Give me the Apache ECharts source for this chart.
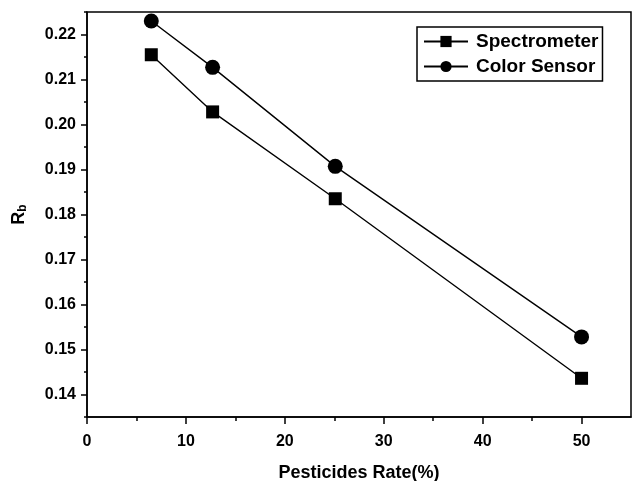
<!DOCTYPE html>
<html>
<head>
<meta charset="utf-8">
<script src="https://cdn.jsdelivr.net/npm/echarts@6/dist/echarts.min.js"></script>
<style>
  html, body { margin: 0; padding: 0; background: #fff; }
  #chart { width: 638px; height: 481px; }
</style>
</head>
<body>
<div id="chart"></div>
<script>
// data
var rates = [6.5, 12.7, 25.1, 50];
var spectrometer = [0.2155, 0.2028, 0.1835, 0.1436];
var colorSensor = [0.2230, 0.2127, 0.1907, 0.1528];
var xTickValues = [0, 10, 20, 30, 40, 50];
var yTickValues = [0.14, 0.15, 0.16, 0.17, 0.18, 0.19, 0.20, 0.21, 0.22];
var yMinorValues = [0.135, 0.145, 0.155, 0.165, 0.175, 0.185, 0.195, 0.205, 0.215, 0.225];

var font = 'Liberation Sans, Arial, sans-serif';

function pairs(xs, ys) {
    return xs.map(function (x, i) { return [x, ys[i]]; });
}

var myChart = echarts.init(document.getElementById('chart'));
var option = {
    animation: false,
    grid: {
        left: 87,
        right: 7,
        top: 12,
        bottom: 64,
        outerBoundsMode: 'none',
        show: true,
        borderColor: '#000',
        borderWidth: 1.5
    },
    legend: {
        orient: 'vertical',
        left: 417,
        top: 27,
        borderColor: '#000',
        borderWidth: 1.5,
        padding: [5, 4, 5, 6],
        itemGap: 6,
        itemWidth: 44,
        itemHeight: 14,
        textStyle: {
            fontFamily: font,
            fontWeight: 'bold',
            fontSize: 19,
            color: '#000',
            padding: [0, 0, 0, 3]
        },
        data: ['Spectrometer', 'Color Sensor']
    },
    xAxis: {
        type: 'value',
        min: 0,
        max: 55,
        interval: 10,
        name: 'Pesticides Rate(%)',
        nameLocation: 'middle',
        nameGap: 47,
        nameTextStyle: {
            fontFamily: font,
            fontWeight: 'bold',
            fontSize: 18,
            color: '#000'
        },
        axisLine: { show: true, lineStyle: { color: '#000', width: 1.5 } },
        axisTick: {
            show: true,
            length: 7,
            customValues: xTickValues,
            lineStyle: { color: '#000', width: 1.5 }
        },
        minorTick: {
            show: true,
            splitNumber: 2,
            length: 4,
            lineStyle: { color: '#000', width: 1.5 }
        },
        axisLabel: {
            margin: 17,
            customValues: xTickValues,
            fontFamily: font,
            fontWeight: 'bold',
            fontSize: 16,
            // the axis end (55) carries no label in the original
            color: function (v) {
                return Number(v) > 50.5 ? 'rgba(0,0,0,0)' : '#000';
            },
            formatter: function (v) {
                return v > 50.5 ? ' ' : String(v);
            }
        },
        splitLine: { show: false }
    },
    yAxis: [
        {
            type: 'value',
            min: 0.135,
            max: 0.225,
            name: 'R{sub|b}',
            nameLocation: 'middle',
            nameGap: 58,
            nameRotate: 90,
            nameTextStyle: {
                fontFamily: font,
                fontWeight: 'bold',
                fontSize: 18,
                color: '#000',
                rich: {
                    sub: {
                        fontFamily: font,
                        fontWeight: 'bold',
                        fontSize: 12,
                        color: '#000',
                        verticalAlign: 'bottom',
                        padding: [8, 0, 0, 0]
                    }
                }
            },
            axisLine: { show: true, lineStyle: { color: '#000', width: 1.5 } },
            axisTick: {
                show: true,
                length: 6,
                customValues: yTickValues,
                lineStyle: { color: '#000', width: 1.5 }
            },
            axisLabel: {
                margin: 11,
                customValues: yTickValues,
                fontFamily: font,
                fontWeight: 'bold',
                fontSize: 16,
                color: '#000',
                formatter: function (v) { return v.toFixed(2); }
            },
            splitLine: { show: false }
        },
        {
            type: 'value',
            min: 0.135,
            max: 0.225,
            position: 'left',
            axisLine: { show: false },
            axisTick: {
                show: true,
                length: 3,
                customValues: yMinorValues,
                lineStyle: { color: '#000', width: 1.5 }
            },
            axisLabel: { show: false },
            splitLine: { show: false }
        }
    ],
    series: [
        {
            name: 'Spectrometer',
            type: 'line',
            yAxisIndex: 0,
            symbol: 'rect',
            symbolSize: 13,
            itemStyle: { color: '#000' },
            lineStyle: { color: '#000', width: 1.4 },
            data: pairs(rates, spectrometer)
        },
        {
            name: 'Color Sensor',
            type: 'line',
            yAxisIndex: 0,
            symbol: 'circle',
            symbolSize: 15,
            itemStyle: { color: '#000' },
            lineStyle: { color: '#000', width: 1.4 },
            data: pairs(rates, colorSensor)
        }
    ]
};
myChart.setOption(option);
window.addEventListener('resize', function () {
    myChart.resize();
});
</script>
</body>
</html>
